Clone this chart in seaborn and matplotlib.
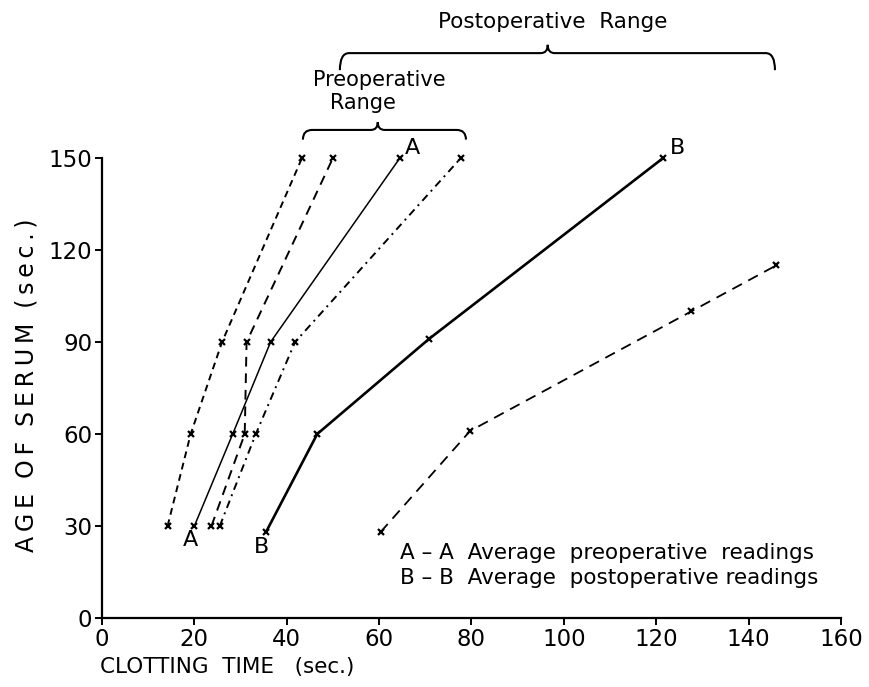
import matplotlib
matplotlib.use("Agg")
import matplotlib.pyplot as plt
import matplotlib.transforms as mtransforms
from matplotlib.path import Path
from matplotlib.patches import PathPatch
import pandas as pd
import seaborn as sns

# ---------------- data ----------------
age_levels = [30, 60, 90, 150]
case1_x = [14.2, 19.2, 26.0, 43.3]
case2_x = [23.7, 30.9, 31.3, 50.0]
avg_pre_x = [20.0, 28.3, 36.5, 64.5]
case3_x = [25.5, 33.3, 41.8, 77.7]
avg_post_x = [35.5, 46.6, 70.8, 121.5]
avg_post_y = [28, 60, 91, 150]
case4_x = [60.3, 79.7, 127.6, 146.0]
case4_y = [28, 61, 100, 115]

pre_range = (43.5, 78.8)
pre_tip = 59.7
post_range = (51.5, 145.7)
post_tip = 96.5

x_ticks = [0, 20, 40, 60, 80, 100, 120, 140, 160]
y_ticks = [0, 30, 60, 90, 120, 150]

series = {
    "case1": (case1_x, age_levels),
    "case2": (case2_x, age_levels),
    "A": (avg_pre_x, age_levels),
    "case3": (case3_x, age_levels),
    "B": (avg_post_x, avg_post_y),
    "case4": (case4_x, case4_y),
}
rows = []
for name, (xs, ys) in series.items():
    for i, (xv, yv) in enumerate(zip(xs, ys)):
        rows.append({"series": name, "clot": xv, "age": yv, "order": i})
df = pd.DataFrame(rows)

styles = {
    "case1": dict(linestyle=(0, (3.5, 2.5)), lw=1.4),
    "case2": dict(linestyle=(0, (5, 3.5)), lw=1.4),
    "A": dict(linestyle="-", lw=1.1),
    "case3": dict(linestyle=(0, (4, 2.5, 1, 2.5)), lw=1.4),
    "B": dict(linestyle="-", lw=1.9),
    "case4": dict(linestyle=(0, (6, 4)), lw=1.3),
}

# ---------------- figure ----------------
sns.set_style("ticks")
plt.rcParams["font.family"] = ["DejaVu Sans"]
plt.rcParams["text.color"] = "black"
plt.rcParams["axes.labelcolor"] = "black"

fig = plt.figure(figsize=(8.7, 6.87), dpi=100)
ax = fig.add_axes([102 / 870, 1 - 618 / 687, 739 / 870, 460 / 687])

for name in series:
    sub = df[df["series"] == name]
    sns.lineplot(data=sub, x="clot", y="age", sort=False, estimator=None,
                 color="black", marker="x", markersize=5, markeredgewidth=1.6,
                 markeredgecolor="black", markerfacecolor="black",
                 ax=ax, clip_on=False, **styles[name])

ax.set_xlim(0, 160)
ax.set_ylim(0, 150)
ax.set_xticks(x_ticks)
ax.set_yticks(y_ticks)
ax.set_xticklabels([str(t) for t in x_ticks])
ax.set_yticklabels([str(t) for t in y_ticks])
ax.tick_params(axis="both", direction="out", length=5, width=1.4,
               labelsize=16.5, color="black", labelcolor="black")
ax.tick_params(axis="y", pad=2)
ax.tick_params(axis="x", pad=2)
sns.despine(ax=ax)
for sp in ("left", "bottom"):
    ax.spines[sp].set_linewidth(1.6)
    ax.spines[sp].set_color("black")

ax.set_xlabel("CLOTTING  TIME   (sec.)", fontsize=15.5, loc="left")
ax.xaxis.set_label_coords(-0.003, -0.084)
ax.xaxis.label.set_ha("left")
ts = "\u2009"
ylab = "  ".join(ts.join(w) for w in ["AGE", "OF", "SERUM", "(sec.)"])
ax.set_ylabel(ylab, fontsize=17)
ax.yaxis.set_label_coords(-0.086, 0.505)

# endpoint letters
a_first = (avg_pre_x[0], age_levels[0])
a_last = (avg_pre_x[-1], age_levels[-1])
b_first = (avg_post_x[0], avg_post_y[0])
b_last = (avg_post_x[-1], avg_post_y[-1])
for lbl, pt, off in [("A", a_first, (-3, -10)), ("A", a_last, (9, 7)),
                     ("B", b_first, (-3, -11)), ("B", b_last, (10, 7))]:
    ax.annotate(lbl, xy=pt, xytext=off, textcoords="offset points",
                ha="center", va="center", fontsize=16)

# legend text
ax.text(0.403, 0.142, "A – A  Average  preoperative  readings",
        transform=ax.transAxes, fontsize=15.5, ha="left", va="center")
ax.text(0.403, 0.088, "B – B  Average  postoperative readings",
        transform=ax.transAxes, fontsize=15.5, ha="left", va="center")

# braces
bt = mtransforms.blended_transform_factory(ax.transData, ax.transAxes)


def brace(x0, x1, xtip, y_line, y_end, y_tip, d_end=2.0, d_tip=1.5, lw=1.5):
    verts = [
        (x0, y_end), (x0, y_line), (x0 + d_end, y_line),
        (xtip - d_tip, y_line),
        (xtip, y_line), (xtip, y_tip),
        (xtip, y_line), (xtip + d_tip, y_line),
        (x1 - d_end, y_line),
        (x1, y_line), (x1, y_end),
    ]
    codes = [Path.MOVETO, Path.CURVE3, Path.CURVE3,
             Path.LINETO,
             Path.CURVE3, Path.CURVE3,
             Path.CURVE3, Path.CURVE3,
             Path.LINETO,
             Path.CURVE3, Path.CURVE3]
    patch = PathPatch(Path(verts, codes), fill=False, lw=lw, ec="black",
                      transform=bt, clip_on=False)
    ax.add_patch(patch)


brace(post_range[0], post_range[1], post_tip, 1.228, 1.191, 1.246)
brace(pre_range[0], pre_range[1], pre_tip, 1.061, 1.040, 1.078)

ax.text(97.5, 1.296, "Postoperative  Range", transform=bt, fontsize=15.5,
        ha="center", va="center")
ax.text(60.0, 1.170, "Preoperative", transform=bt, fontsize=15,
        ha="center", va="center")
ax.text(56.5, 1.120, "Range", transform=bt, fontsize=15,
        ha="center", va="center")

fig.savefig("out.png", dpi=100)
